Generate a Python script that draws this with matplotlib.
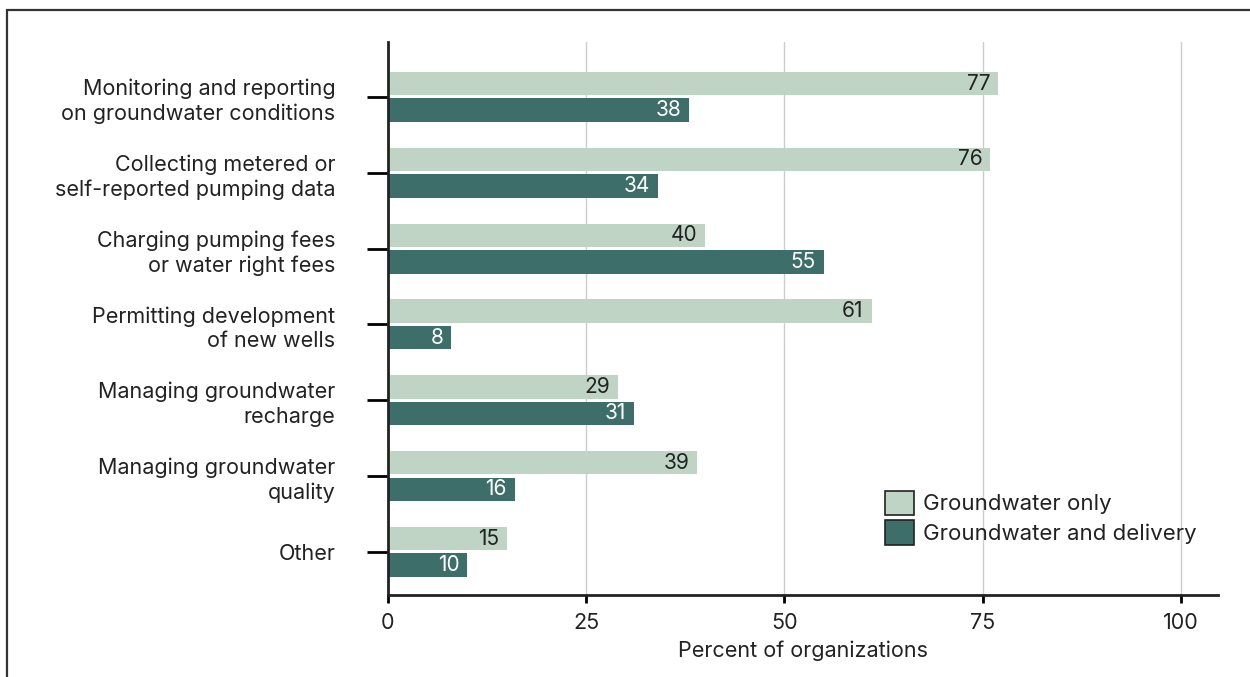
import matplotlib
matplotlib.use("Agg")
import matplotlib.pyplot as plt
from matplotlib.patches import Rectangle
import numpy as np

categories = [
    "Monitoring and reporting\non groundwater conditions",
    "Collecting metered or\nself-reported pumping data",
    "Charging pumping fees\nor water right fees",
    "Permitting development\nof new wells",
    "Managing groundwater\nrecharge",
    "Managing groundwater\nquality",
    "Other",
]
gw_only = [77, 76, 40, 61, 29, 39, 15]
gw_delivery = [38, 34, 55, 8, 31, 16, 10]
series_names = ["Groundwater only", "Groundwater and delivery"]
x_ticks = [0, 25, 50, 75, 100]

LIGHT = "#bfd4c5"
DARK = "#3d6e69"
TEXT = "#222222"

plt.rcParams["font.family"] = ["Inter", "DejaVu Sans"]

fig = plt.figure(figsize=(12.5, 6.77), dpi=100)
ax = fig.add_axes([0.3104, 0.1211, 0.664, 0.8169])

# outer frame, open on the right and bottom
fig.patches.append(Rectangle((0.0056, -0.05), 1.1, 1.035, transform=fig.transFigure,
                             fill=False, edgecolor="#333333", linewidth=1.6))

y = np.arange(len(categories))
h = 0.31
off = 0.175
ax.barh(y - off, gw_only, height=h, color=LIGHT, label=series_names[0], zorder=2)
ax.barh(y + off, gw_delivery, height=h, color=DARK, label=series_names[1], zorder=2)

for yi, v in zip(y, gw_only):
    ax.text(v - 1.0, yi - off, f"{v}", ha="right", va="center", fontsize=15,
            color=TEXT, zorder=3)
for yi, v in zip(y, gw_delivery):
    ax.text(v - 1.0, yi + off, f"{v}", ha="right", va="center", fontsize=15,
            color="white", zorder=3)

ax.set_xlim(0, 104.7)
ax.set_ylim(6.57, -0.725)
ax.set_xticks(x_ticks)
ax.set_yticks(y)
ax.set_yticklabels(categories, fontsize=15.5, color=TEXT, linespacing=1.3)
ax.tick_params(axis="y", length=15, width=2, pad=23, color="black")
ax.tick_params(axis="x", length=6, width=2, labelsize=15.5, labelcolor=TEXT, pad=7)
for lbl in ax.get_yticklabels():
    lbl.set_ha("right")

ax.grid(axis="x", color="#cccccc", linewidth=1, zorder=0)
ax.set_axisbelow(True)
for s in ["top", "right"]:
    ax.spines[s].set_visible(False)
for s in ["left", "bottom"]:
    ax.spines[s].set_linewidth(2)
    ax.spines[s].set_color("#222222")

ax.set_xlabel("Percent of organizations", fontsize=15.5, color=TEXT, labelpad=5)

leg = ax.legend(loc="lower right", bbox_to_anchor=(0.985, 0.075), frameon=False,
                fontsize=16, handlelength=1.3, handleheight=1.3, handletextpad=0.4,
                labelspacing=0.25, borderaxespad=0)
for p in leg.get_patches():
    p.set_edgecolor("#222222")
    p.set_linewidth(1.2)
for t in leg.get_texts():
    t.set_color(TEXT)

fig.savefig("out.png", dpi=100)
